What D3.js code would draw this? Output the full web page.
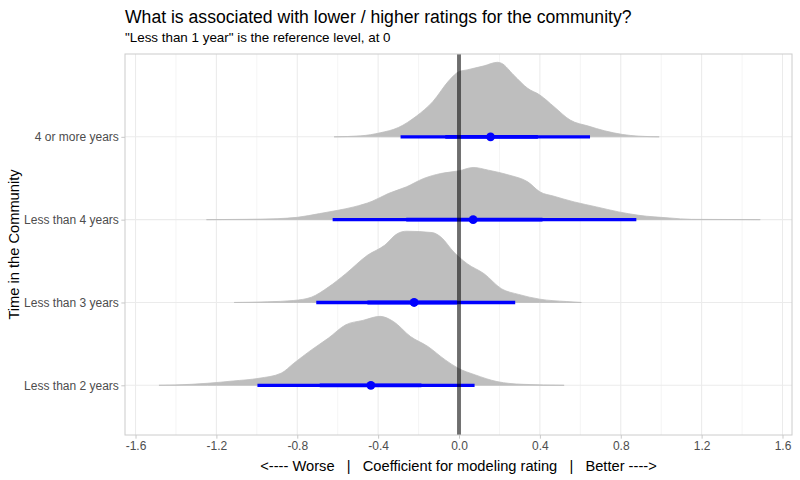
<!DOCTYPE html>
<html>
<head>
<meta charset="utf-8">
<script src="https://cdn.jsdelivr.net/npm/d3@7"></script>
<style>
  html, body { margin: 0; padding: 0; background: #ffffff; }
  text { font-family: "Liberation Sans", Arial, sans-serif; }
</style>
</head>
<body>
<svg id="chart" width="800" height="480"></svg>
<script>
// ---------- DATA ----------
const categories = ["Less than 2 years", "Less than 3 years", "Less than 4 years", "4 or more years"];

const xTicks = [-1.6, -1.2, -0.8, -0.4, 0.0, 0.4, 0.8, 1.2, 1.6];
const xTickLabels = ["-1.6", "-1.2", "-0.8", "-0.4", "0.0", "0.4", "0.8", "1.2", "1.6"];
const xMinorTicks = [-1.4, -1.0, -0.6, -0.2, 0.2, 0.6, 1.0, 1.4];

// Posterior density outlines (x value, relative density)
const densX_lt2 = [-1.484, -1.405, -1.245, -1.117, -0.99, -0.88, -0.817, -0.73, -0.646, -0.56, -0.475, -0.39, -0.325, -0.24, -0.154, -0.068, -0.004, 0.081, 0.188, 0.317, 0.52];
const densY_lt2 = [0, 0.004, 0.027, 0.058, 0.094, 0.162, 0.296, 0.475, 0.633, 0.812, 0.871, 0.925, 0.857, 0.655, 0.521, 0.341, 0.229, 0.139, 0.05, 0.013, 0];

const densX_lt3 = [-1.112, -0.945, -0.817, -0.73, -0.646, -0.56, -0.453, -0.368, -0.304, -0.26, -0.133, -0.09, -0.026, 0.04, 0.124, 0.21, 0.295, 0.40, 0.53, 0.605];
const densY_lt3 = [0, 0.009, 0.027, 0.071, 0.206, 0.386, 0.633, 0.767, 0.925, 0.956, 0.938, 0.879, 0.677, 0.521, 0.386, 0.184, 0.108, 0.044, 0.013, 0];

const densX_lt4 = [-1.249, -1.059, -0.90, -0.80, -0.69, -0.60, -0.52, -0.43, -0.35, -0.26, -0.175, -0.09, 0, 0.07, 0.145, 0.25, 0.34, 0.40, 0.47, 0.57, 0.68, 0.79, 0.89, 1.04, 1.15, 1.49];
const densY_lt4 = [0, 0.004, 0.013, 0.031, 0.081, 0.125, 0.171, 0.246, 0.35, 0.44, 0.552, 0.619, 0.655, 0.70, 0.664, 0.596, 0.507, 0.373, 0.314, 0.238, 0.171, 0.104, 0.058, 0.023, 0.004, 0];

const densX_4plus = [-0.618, -0.486, -0.39, -0.30, -0.21, -0.13, -0.047, 0, 0.04, 0.124, 0.19, 0.21, 0.27, 0.34, 0.40, 0.47, 0.55, 0.64, 0.72, 0.81, 0.89, 0.99];
const densY_4plus = [0, 0.013, 0.054, 0.125, 0.279, 0.471, 0.763, 0.875, 0.898, 0.952, 1.0, 0.987, 0.83, 0.65, 0.561, 0.404, 0.225, 0.144, 0.081, 0.031, 0.009, 0];

// Point estimates and intervals (same order as categories)
const pointEst = [-0.436, -0.222, 0.07, 0.156];
const lo95 = [-0.997, -0.706, -0.625, -0.289];
const hi95 = [0.077, 0.278, 0.877, 0.648];
const lo66 = [-0.689, -0.453, -0.261, -0.068];
const hi66 = [-0.186, -0.009, 0.413, 0.39];

const densXs = [densX_lt2, densX_lt3, densX_lt4, densX_4plus];
const densYs = [densY_lt2, densY_lt3, densY_lt4, densY_4plus];

const titleText = "What is associated with lower / higher ratings for the community?";
const subtitleText = "\"Less than 1 year\" is the reference level, at 0";
const xTitleText = "<---- Worse   |   Coefficient for modeling rating   |   Better ---->";
const yTitleText = "Time in the Community";

// ---------- LAYOUT ----------
const panel = { left: 125, right: 792, top: 54, bottom: 435 };
const svg = d3.select("#chart");

const x = d3.scaleLinear().domain([-1.652, 1.647]).range([panel.left, panel.right]);
const y = d3.scaleLinear().domain([0.4, 5.0]).range([panel.bottom, panel.top]);
const slabScale = 0.9;

// Grid
const grid = svg.append("g");
grid.selectAll("line.minor").data(xMinorTicks).enter().append("line")
  .attr("x1", d => x(d)).attr("x2", d => x(d))
  .attr("y1", panel.top).attr("y2", panel.bottom)
  .attr("stroke", "#ebebeb").attr("stroke-width", 0.55);
grid.selectAll("line.major").data(xTicks).enter().append("line")
  .attr("x1", d => x(d)).attr("x2", d => x(d))
  .attr("y1", panel.top).attr("y2", panel.bottom)
  .attr("stroke", "#ebebeb").attr("stroke-width", 1.07);
grid.selectAll("line.hmajor").data(categories).enter().append("line")
  .attr("x1", panel.left).attr("x2", panel.right)
  .attr("y1", (d, i) => y(i + 1)).attr("y2", (d, i) => y(i + 1))
  .attr("stroke", "#ebebeb").attr("stroke-width", 1.07);

// Slabs
const area = d3.area()
  .curve(d3.curveMonotoneX)
  .x(d => x(d[0]))
  .y0(d => y(d[2]))
  .y1(d => y(d[2] + d[1] * slabScale));

categories.forEach((c, i) => {
  const pts = densXs[i].map((xv, j) => [xv, densYs[i][j], i + 1]);
  svg.append("path").datum(pts)
    .attr("d", area)
    .attr("fill", "#bebebe")
    .attr("stroke", "#bebebe")
    .attr("stroke-width", 0.8);
});

// Intervals
const iv = svg.append("g");
iv.selectAll("line.i95").data(categories).enter().append("line")
  .attr("x1", (d, i) => x(lo95[i])).attr("x2", (d, i) => x(hi95[i]))
  .attr("y1", (d, i) => y(i + 1)).attr("y2", (d, i) => y(i + 1))
  .attr("stroke", "#0000ff").attr("stroke-width", 3.3);
iv.selectAll("line.i66").data(categories).enter().append("line")
  .attr("x1", (d, i) => x(lo66[i])).attr("x2", (d, i) => x(hi66[i]))
  .attr("y1", (d, i) => y(i + 1)).attr("y2", (d, i) => y(i + 1))
  .attr("stroke", "#0000ff").attr("stroke-width", 3.8);
iv.selectAll("circle").data(categories).enter().append("circle")
  .attr("cx", (d, i) => x(pointEst[i])).attr("cy", (d, i) => y(i + 1))
  .attr("r", 4.4).attr("fill", "#0000ff");

// Reference line at 0
svg.append("line")
  .attr("x1", x(0)).attr("x2", x(0))
  .attr("y1", panel.top).attr("y2", panel.bottom)
  .attr("stroke", "#000").attr("stroke-opacity", 0.55).attr("stroke-width", 4);

// Panel border
svg.append("rect")
  .attr("x", panel.left).attr("y", panel.top)
  .attr("width", panel.right - panel.left).attr("height", panel.bottom - panel.top)
  .attr("fill", "none").attr("stroke", "#cccccc").attr("stroke-width", 1);

// Axes
const xAxis = d3.axisBottom(x).tickValues(xTicks)
  .tickFormat((d, i) => xTickLabels[i]).tickSize(3.67).tickPadding(2.5);
const gx = svg.append("g").attr("transform", `translate(0,${panel.bottom})`).call(xAxis);
gx.select(".domain").remove();
gx.selectAll(".tick line").attr("stroke", "#c8c8c8");
gx.selectAll(".tick text").attr("fill", "#4d4d4d").style("font-size", "12px")
  .style("font-family", "'Liberation Sans', Arial, sans-serif");

const yAxis = d3.axisLeft(y).tickValues([1, 2, 3, 4])
  .tickFormat(d => categories[d - 1]).tickSize(3.67).tickPadding(2.5);
const gy = svg.append("g").attr("transform", `translate(${panel.left},0)`).call(yAxis);
gy.select(".domain").remove();
gy.selectAll(".tick line").attr("stroke", "#c8c8c8");
gy.selectAll(".tick text").attr("fill", "#4d4d4d").style("font-size", "12px")
  .style("font-family", "'Liberation Sans', Arial, sans-serif");

// Titles
svg.append("text").attr("x", panel.left).attr("y", 23)
  .style("font-size", "17.6px").attr("fill", "#000").text(titleText);
svg.append("text").attr("x", panel.left).attr("y", 42)
  .style("font-size", "13.4px").attr("fill", "#000").text(subtitleText);
svg.append("text").attr("x", (panel.left + panel.right) / 2).attr("y", 471)
  .attr("text-anchor", "middle").attr("xml:space", "preserve").style("white-space", "pre")
  .style("font-size", "14.67px").attr("fill", "#000").text(xTitleText);
svg.append("text")
  .attr("transform", `translate(19,${(panel.top + panel.bottom) / 2}) rotate(-90)`)
  .attr("text-anchor", "middle")
  .style("font-size", "14.67px").attr("fill", "#000").text(yTitleText);
</script>
</body>
</html>
